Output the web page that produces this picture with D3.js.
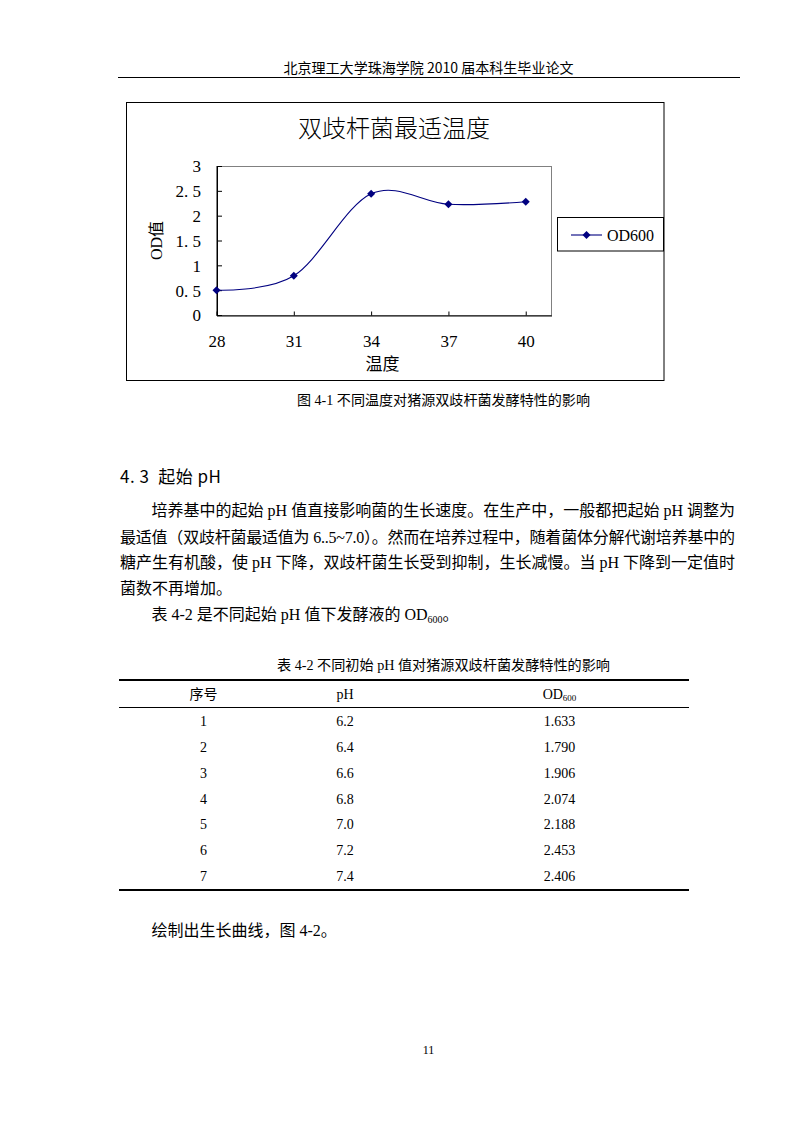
<!DOCTYPE html>
<html>
<head>
<meta charset="utf-8">
<script src="https://cdn.jsdelivr.net/npm/d3@7"></script>
<style>
  body { margin: 0; background: #fff; }
  svg text { fill: #000; }
  .cjk { font-family: "Noto Sans CJK SC", sans-serif; }
  .serif { font-family: "Liberation Serif", "Noto Sans CJK SC", serif; }
</style>
</head>
<body>
<div id="page"></div>
<script>
// chart data (figure 4-1)
var temps = [28, 31, 34, 37, 40];
var od600 = [0.50, 0.79, 2.44, 2.23, 2.28];
var yTicks = [0, 0.5, 1, 1.5, 2, 2.5, 3];
var seriesName = "OD600";

// table 4-2
var rowNo = ["1", "2", "3", "4", "5", "6", "7"];
var phValues = ["6.2", "6.4", "6.6", "6.8", "7.0", "7.2", "7.4"];
var odValues = ["1.633", "1.790", "1.906", "2.074", "2.188", "2.453", "2.406"];

var svg = d3.select("#page").append("svg")
    .attr("width", 794)
    .attr("height", 1123);

// page header
svg.append("text")
    .attr("class", "cjk")
    .attr("x", 283.5).attr("y", 73)
    .attr("font-size", 14)
    .attr("textLength", 290).attr("lengthAdjust", "spacingAndGlyphs")
    .text("北京理工大学珠海学院 2010 届本科生毕业论文");
svg.append("line")
    .attr("x1", 118).attr("x2", 740)
    .attr("y1", 77.5).attr("y2", 77.5)
    .attr("stroke", "#000");

// ---- chart ----
var chart = svg.append("g");

chart.append("rect")
    .attr("x", 126.5).attr("y", 102.5)
    .attr("width", 537.5).attr("height", 278)
    .attr("fill", "#fff").attr("stroke", "#000");

var plot = {left: 216.5, right: 551.5, top: 166, bottom: 315};

var x = d3.scaleLinear()
    .domain([28, 41])
    .range([plot.left, plot.right]);

var y = d3.scaleLinear()
    .domain([0, 3])
    .range([plot.bottom, plot.top]);

// plot area frame (grey top/right)
chart.append("rect")
    .attr("x", plot.left).attr("y", plot.top + 0.5)
    .attr("width", plot.right - plot.left).attr("height", plot.bottom - plot.top)
    .attr("fill", "none").attr("stroke", "#808080");

chart.append("text")
    .attr("class", "cjk")
    .attr("x", 394).attr("y", 137)
    .attr("text-anchor", "middle")
    .attr("font-size", 24)
    .attr("font-weight", 300)
    .text("双歧杆菌最适温度");

// x axis
var xAxis = chart.append("g")
    .attr("transform", "translate(0," + (plot.bottom + 0.5) + ")")
    .call(d3.axisBottom(x).tickValues(temps).tickSize(-4).tickSizeOuter(0));
xAxis.select(".domain").attr("stroke", "#000");
xAxis.selectAll(".tick line").attr("stroke", "#000");
xAxis.selectAll(".tick text")
    .attr("class", "serif")
    .attr("y", 26).attr("dy", "0.35em")
    .attr("font-size", 17)
    .attr("fill", "#000");

// y axis
var yAxis = chart.append("g")
    .attr("transform", "translate(" + (plot.left + 0.5) + ",0)")
    .call(d3.axisLeft(y).tickValues(yTicks).tickSize(-5).tickSizeOuter(0)
        .tickFormat(function(d) { return d % 1 ? d.toFixed(1).replace(".", ". ") : "" + d; }));
yAxis.select(".domain").attr("stroke", "#000");
yAxis.selectAll(".tick line").attr("stroke", "#000");
yAxis.selectAll(".tick text")
    .attr("class", "serif")
    .attr("x", -16).attr("dy", "0.35em")
    .attr("font-size", 17)
    .attr("fill", "#000");

chart.append("text")
    .attr("class", "cjk")
    .attr("x", 382.5).attr("y", 370)
    .attr("text-anchor", "middle")
    .attr("font-size", 17)
    .text("温度");

chart.append("text")
    .attr("class", "serif")
    .attr("transform", "translate(162,240.5) rotate(-90)")
    .attr("text-anchor", "middle")
    .attr("font-size", 16)
    .text("OD值");

// the series
var points = temps.map(function(t, i) { return {t: t, v: od600[i]}; });

var line = d3.line()
    .x(function(d) { return x(d.t); })
    .y(function(d) { return y(d.v); })
    .curve(d3.curveCardinal.tension(0));

chart.append("path")
    .datum(points)
    .attr("d", line)
    .attr("fill", "none")
    .attr("stroke", "#000080")
    .attr("stroke-width", 1.1);

var diamond = d3.symbol().type(d3.symbolSquare).size(32);

chart.selectAll(".marker")
    .data(points)
  .enter().append("path")
    .attr("class", "marker")
    .attr("d", diamond)
    .attr("transform", function(d) { return "translate(" + x(d.t) + "," + y(d.v) + ") rotate(45)"; })
    .attr("fill", "#000080");

// legend
var legend = chart.append("g");
legend.append("rect")
    .attr("x", 557.5).attr("y", 217.5)
    .attr("width", 106).attr("height", 33.5)
    .attr("fill", "#fff").attr("stroke", "#000");
legend.append("line")
    .attr("x1", 571).attr("x2", 602)
    .attr("y1", 235).attr("y2", 235)
    .attr("stroke", "#000080").attr("stroke-width", 1.1);
legend.append("path")
    .attr("d", diamond)
    .attr("transform", "translate(586.5,235) rotate(45)")
    .attr("fill", "#000080");
legend.append("text")
    .attr("class", "serif")
    .attr("x", 607).attr("y", 241)
    .attr("font-size", 16)
    .text(seriesName);

// figure caption
svg.append("text")
    .attr("class", "serif")
    .attr("x", 297).attr("y", 405)
    .attr("font-size", 14)
    .attr("textLength", 293).attr("lengthAdjust", "spacingAndGlyphs")
    .text("图 4-1 不同温度对猪源双歧杆菌发酵特性的影响");

// ---- body text ----
svg.append("text")
    .attr("class", "cjk")
    .attr("x", 120).attr("y", 482.5)
    .attr("font-size", 17)
    .attr("textLength", 101).attr("lengthAdjust", "spacing")
    .text("4. 3\u00a0\u00a0起始 pH");

var bodyLines = [
    {x: 151.5, y: 515.5, w: 583.5, s: "培养基中的起始 pH 值直接影响菌的生长速度。在生产中，一般都把起始 pH 调整为"},
    {x: 120, y: 542.5, w: 615, s: "最适值（双歧杆菌最适值为 6..5~7.0）。然而在培养过程中，随着菌体分解代谢培养基中的"},
    {x: 120, y: 568, w: 615, s: "糖产生有机酸，使 pH 下降，双歧杆菌生长受到抑制，生长减慢。当 pH 下降到一定值时"},
    {x: 120, y: 594, w: 0, s: "菌数不再增加。"}
];
bodyLines.forEach(function(l) {
    var t = svg.append("text")
        .attr("class", "serif")
        .attr("x", l.x).attr("y", l.y)
        .attr("font-size", 16)
        .text(l.s);
    if (l.w) t.attr("textLength", l.w).attr("lengthAdjust", "spacing");
});

var l5 = svg.append("text")
    .attr("class", "serif")
    .attr("x", 151.5).attr("y", 619.5)
    .attr("font-size", 16);
l5.append("tspan").text("表 4-2 是不同起始 pH 值下发酵液的 OD");
l5.append("tspan").attr("font-size", 10).attr("dy", 3).text("600");
l5.append("tspan").attr("dy", -3).text("。");

// ---- table 4-2 ----
svg.append("text")
    .attr("class", "serif")
    .attr("x", 277).attr("y", 670)
    .attr("font-size", 14)
    .attr("textLength", 333).attr("lengthAdjust", "spacingAndGlyphs")
    .text("表 4-2 不同初始 pH 值对猪源双歧杆菌发酵特性的影响");

var tbl = svg.append("g");
tbl.append("line").attr("x1", 119).attr("x2", 689).attr("y1", 680).attr("y2", 680)
    .attr("stroke", "#000").attr("stroke-width", 2);
tbl.append("line").attr("x1", 119).attr("x2", 689).attr("y1", 707.5).attr("y2", 707.5)
    .attr("stroke", "#000").attr("stroke-width", 1);
tbl.append("line").attr("x1", 119).attr("x2", 689).attr("y1", 890).attr("y2", 890)
    .attr("stroke", "#000").attr("stroke-width", 2);

var colX = [203.5, 345, 559.5];
var rowY = d3.scaleLinear().domain([0, rowNo.length - 1]).range([726, 881]);

tbl.append("text").attr("class", "cjk").attr("x", colX[0]).attr("y", 698.5)
    .attr("text-anchor", "middle").attr("font-size", 14).text("序号");
tbl.append("text").attr("class", "serif").attr("x", colX[1]).attr("y", 698.5)
    .attr("text-anchor", "middle").attr("font-size", 14).text("pH");
var odHead = tbl.append("text").attr("class", "serif").attr("x", colX[2]).attr("y", 698.5)
    .attr("text-anchor", "middle").attr("font-size", 14);
odHead.append("tspan").text("OD");
odHead.append("tspan").attr("font-size", 9).attr("dy", 2).text("600");

[rowNo, phValues, odValues].forEach(function(col, ci) {
    tbl.selectAll(".c" + ci)
        .data(col)
      .enter().append("text")
        .attr("class", "serif c" + ci)
        .attr("x", colX[ci])
        .attr("y", function(d, i) { return rowY(i); })
        .attr("text-anchor", "middle")
        .attr("font-size", 14)
        .text(function(d) { return d; });
});

svg.append("text")
    .attr("class", "serif")
    .attr("x", 151.5).attr("y", 935.5)
    .attr("font-size", 16)
    .text("绘制出生长曲线，图 4-2。");

svg.append("text")
    .attr("class", "serif")
    .attr("x", 428.5).attr("y", 1053.5)
    .attr("text-anchor", "middle")
    .attr("font-size", 12)
    .text("11");
</script>
</body>
</html>
